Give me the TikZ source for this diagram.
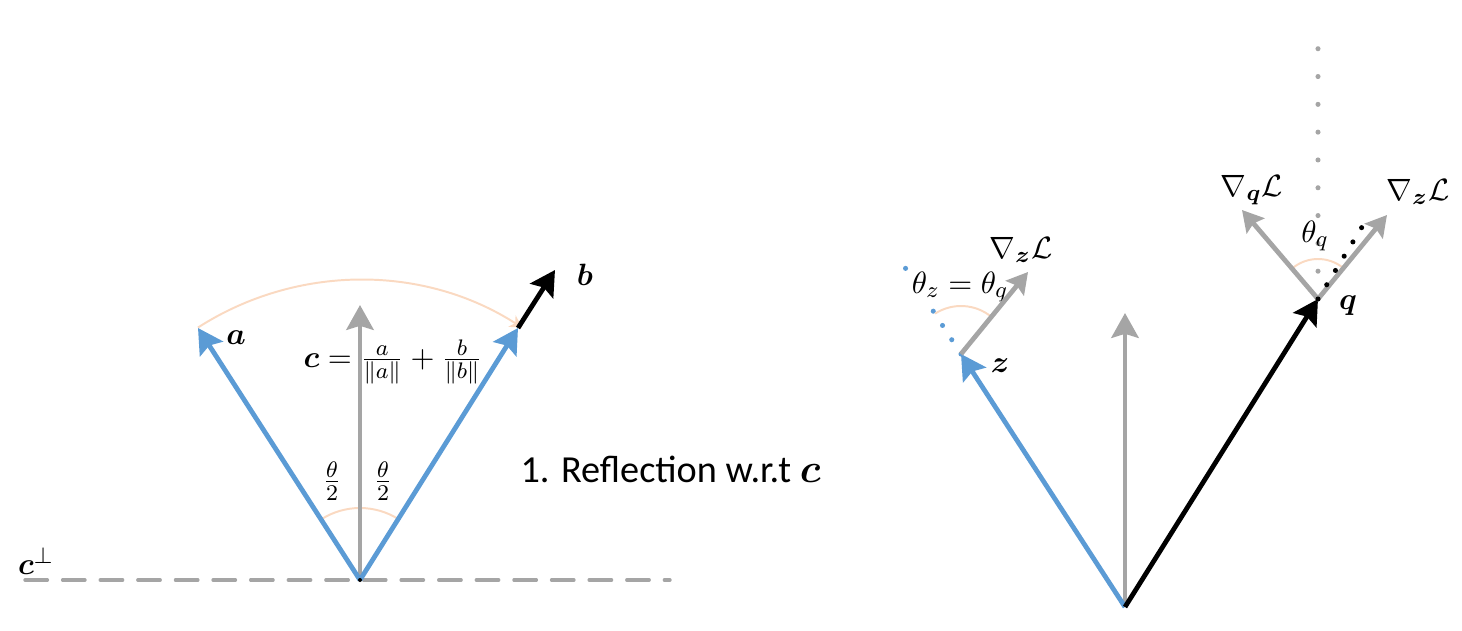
\documentclass[tikz,border=0pt]{standalone}
\usepackage{amsmath}
\usepackage{bm}
\usepackage{fontspec}
\newfontfamily\calibri{Carlito}
\usetikzlibrary{arrows.meta}
\definecolor{vblue}{HTML}{5B9BD5}
\definecolor{vgray}{HTML}{A5A5A5}
\definecolor{vpeach}{HTML}{FAD9C1}
\begin{document}
\begin{tikzpicture}[x=0.0125cm,y=0.0125cm,font=\fontsize{10.95}{13}\selectfont,
  vec/.style={line width=1.7pt,-{Stealth[length=0.31cm,width=0.34cm,inset=0.05cm]}},
  grad/.style={vgray,line width=1.7pt,-{Stealth[length=0.26cm,width=0.29cm,inset=0.04cm]}},
  ang/.style={vpeach,line width=0.7pt},
  dotline/.style={line width=1.8pt,line cap=round,dash pattern=on 0pt off #1}]
\useasboundingbox (0,0) rectangle (1462,-631);
\coordinate (O1) at (360,-580);
\coordinate (A) at (198,-328);
\coordinate (B) at (518,-328);
\coordinate (Bk) at (555,-270);
\coordinate (C) at (360,-305);
\coordinate (Pw) at (25,-580);
\coordinate (Pe) at (670,-580);
\draw[vgray,line width=1.2pt,line cap=round,dash pattern=on 0.28cm off 0.19cm] (Pw) -- (Pe);
\draw[ang,-{Stealth[length=0.15cm,width=0.17cm]}] ([shift={(122.7:300)}]O1) arc[start angle=122.7,end angle=57.3,radius=300];
\draw[ang] ([shift={(122.7:72)}]O1) arc[start angle=122.7,end angle=57.3,radius=72];
\draw[vec] (B) -- (Bk);
\draw[vec,vgray] (O1) -- (C);
\draw[vec,vblue] (O1) -- (A);
\draw[vec,vblue] (O1) -- (B);
\fill (O1) circle[radius=2];
\node (la) at (236,-338) {$\bm{a}$};
\node (lb) at (585,-275) {$\bm{b}$};
\node (lc) at (393,-362) {$\bm{c} = \frac{a}{\|a\|} + \frac{b}{\|b\|}$};
\node (lh1) at (332,-481) {$\frac{\theta}{2}$};
\node (lh2) at (383,-481) {$\frac{\theta}{2}$};
\node (lcp) at (36,-561) {$\bm{c}^{\perp}$};
\node[anchor=base west,inner sep=0pt] (lref) at (520,-482) {\calibri\fontsize{13.6}{16}\selectfont 1. Reflection w.r.t $\bm{c}$};
\coordinate (O2) at (1125,-607);
\coordinate (G) at (1125,-313);
\coordinate (Z) at (961,-354);
\coordinate (Q) at (1318,-299);
\coordinate (ZD) at (904,-266);
\coordinate (QD) at (1362,-227);
\coordinate (QU) at (1318,-22);
\coordinate (GzZ) at (1028,-272);
\coordinate (GqQ) at (1242,-210);
\coordinate (GzQ) at (1387,-215);
\draw[vec,vgray] (O2) -- (G);
\draw[vec,vblue] (O2) -- (Z);
\draw[vec,black] (O2) -- (Q);
\draw[vblue,dotline=0.2125cm] (Z) -- (ZD);
\node[fill=white,inner sep=1pt] (lth) at (960,-287) {$\theta_z = \theta_q$};
\draw[ang] ([shift={(122.7:48)}]Z) arc[start angle=122.7,end angle=50.7,radius=48];
\draw[grad] (Z) -- (GzZ);
\draw[vgray,dotline=0.3475cm] (Q) -- (QU);
\draw[ang] ([shift={(50.6:40)}]Q) arc[start angle=50.6,end angle=130.5,radius=40];
\draw[grad] (Q) -- (GqQ);
\draw[grad] (Q) -- (GzQ);
\draw[black,dotline=0.209cm] (Q) -- (QD);
\node (lgz1) at (1021,-250) {$\nabla_{\bm{z}}\mathcal{L}$};
\node (lz) at (1000,-366) {$\bm{z}$};
\node (lgq) at (1252,-190) {$\nabla_{\bm{q}}\mathcal{L}$};
\node (lgz2) at (1418,-192) {$\nabla_{\bm{z}}\mathcal{L}$};
\node (lthq) at (1315,-236) {$\theta_q$};
\node (lq) at (1348,-306) {$\bm{q}$};
\end{tikzpicture}
\end{document}
